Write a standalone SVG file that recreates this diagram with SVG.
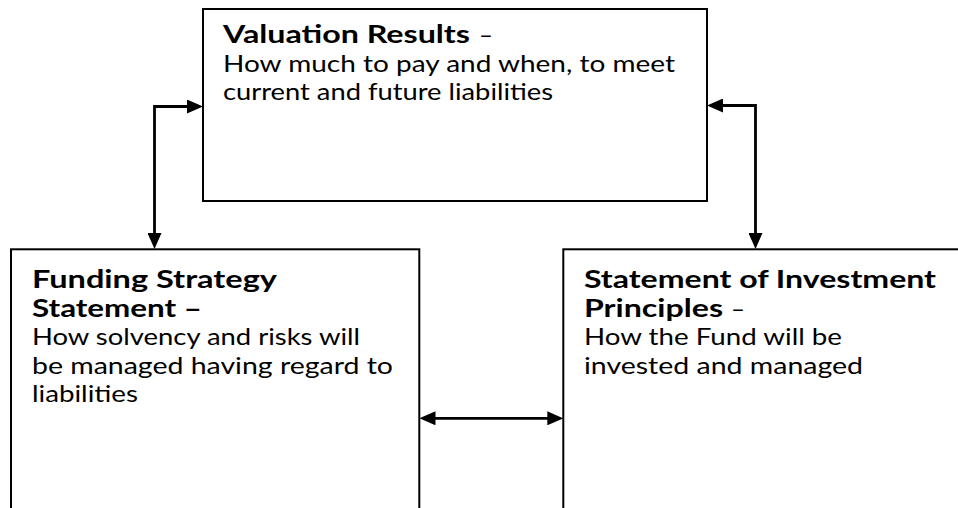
<svg xmlns="http://www.w3.org/2000/svg" width="958" height="508" viewBox="0 0 958 508">
<style>
.box{fill:#fff;stroke:#000;stroke-width:2}
.t{font-family:Lato,"Open Sans","Liberation Sans",sans-serif;font-size:24px;fill:#000}
.b{font-weight:bold}
.c{fill:none;stroke:#000;stroke-width:2.8}
</style>
<defs>
<marker id="ah" viewBox="0 0 16 14" refX="6" refY="7" markerWidth="16" markerHeight="14" markerUnits="userSpaceOnUse" orient="auto-start-reverse">
<path d="M0,0 L16,7 L0,14 z" fill="#000"/>
</marker>
</defs>
<rect width="958" height="508" fill="#fff"/>
<g id="valuation">
<rect class="box" x="203" y="9" width="504" height="192"/>
<text class="t b" x="223" y="43" textLength="247" lengthAdjust="spacingAndGlyphs">Valuation Results</text>
<text class="t" x="479" y="43">–</text>
<text class="t" x="223" y="71.5" textLength="452" lengthAdjust="spacingAndGlyphs">How much to pay and when, to meet</text>
<text class="t" x="223" y="100" textLength="330" lengthAdjust="spacingAndGlyphs">current and future liabilities</text>
</g>
<g id="funding">
<rect class="box" x="11" y="249.3" width="408.3" height="280"/>
<text class="t b" x="32" y="288" textLength="245" lengthAdjust="spacingAndGlyphs">Funding Strategy</text>
<text class="t b" x="32" y="316.5" textLength="170" lengthAdjust="spacingAndGlyphs">Statement –</text>
<text class="t" x="32" y="345" textLength="328" lengthAdjust="spacingAndGlyphs">How solvency and risks will</text>
<text class="t" x="32" y="373.5" textLength="361" lengthAdjust="spacingAndGlyphs">be managed having regard to</text>
<text class="t" x="32" y="402" textLength="106" lengthAdjust="spacingAndGlyphs">liabilities</text>
</g>
<g id="investment">
<rect class="box" x="563.3" y="249.3" width="430" height="280"/>
<text class="t b" x="584" y="288" textLength="352" lengthAdjust="spacingAndGlyphs">Statement of Investment</text>
<text class="t b" x="584" y="316.5" textLength="139" lengthAdjust="spacingAndGlyphs">Principles</text>
<text class="t" x="731" y="316.5">–</text>
<text class="t" x="584" y="345" textLength="258" lengthAdjust="spacingAndGlyphs">How the Fund will be</text>
<text class="t" x="584" y="373.5" textLength="279" lengthAdjust="spacingAndGlyphs">invested and managed</text>
</g>
<g id="connectors">
<path class="c" d="M154.5,239 V106.5 H193" marker-start="url(#ah)" marker-end="url(#ah)"/>
<path class="c" d="M717,105.5 H755.5 V239" marker-start="url(#ah)" marker-end="url(#ah)"/>
<path class="c" d="M429.5,418.3 H553.3" marker-start="url(#ah)" marker-end="url(#ah)"/>
</g>
</svg>
